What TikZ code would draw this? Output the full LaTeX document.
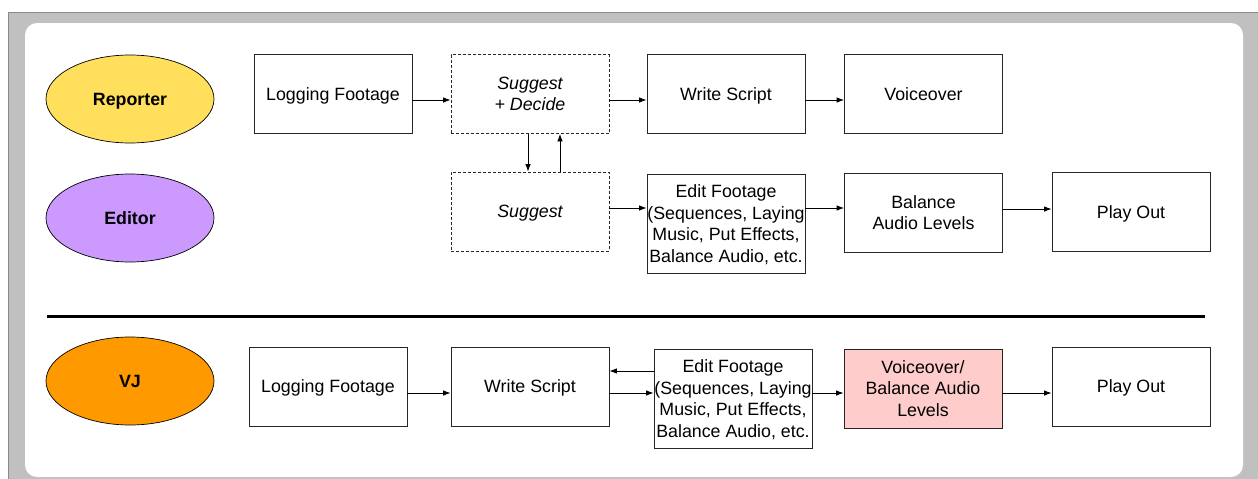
\documentclass[tikz,border=0pt]{standalone}
\usepackage{fontspec}
\setmainfont{Liberation Sans}
\usetikzlibrary{shapes.geometric,arrows.meta}
\definecolor{frame}{HTML}{C0C0C0}
\definecolor{frameedge}{HTML}{8A8A8A}
\definecolor{repcol}{HTML}{FFDF5C}
\definecolor{edcol}{HTML}{CC99FF}
\definecolor{vjcol}{HTML}{FF9900}
\definecolor{pinkcol}{HTML}{FFCCCC}
\tikzset{
  role/.style={ellipse,draw=black,line width=0.7pt,minimum width=168pt,minimum height=88pt,inner sep=0pt,text depth=0pt,font=\fontsize{17.8}{21.5}\selectfont\bfseries},
  taskbox/.style={draw=black!85,line width=0.8pt,minimum width=158pt,minimum height=79pt,inner sep=0pt,text depth=0pt,align=center,font=\fontsize{17.8}{21.5}\selectfont},
  tallbox/.style={taskbox,minimum height=99pt},
  idea/.style={taskbox,dash pattern=on 3pt off 2pt,font=\fontsize{17.8}{21.5}\selectfont\itshape},
  flow/.style={line width=0.8pt,-{Latex[length=7.5pt,width=5.5pt]}}
}
\begin{document}
\begin{tikzpicture}[x=1pt,y=-1pt]
\useasboundingbox (0,0) rectangle (1258,479);
% page frame and white panel
\fill[frame] (8,12) rectangle (1258,479);
\draw[frameedge,line width=1pt] (8,479) -- (8,12) -- (1258,12);
\fill[white,rounded corners=12pt] (25,23) rectangle (1243,477);

% roles
\node[role,fill=repcol] (rep) at (130,99) {Reporter};
\node[role,fill=edcol] (ed) at (130,218) {Editor};
\node[role,fill=vjcol] (vj) at (130,381) {VJ};

% reporter row
\node[taskbox] (log1) at (333,94) {Logging Footage};
\node[idea] (sd) at (530,94) {Suggest\\+ Decide};
\node[taskbox] (ws1) at (726,94) {Write Script};
\node[taskbox] (vo) at (923.5,94) {Voiceover};

% editor row
\node[idea] (sg) at (530,211.5) {Suggest};
\node[tallbox] (ef1) at (726,223.5) {Edit Footage\\(Sequences, Laying\\Music, Put Effects,\\Balance Audio, etc.};
\node[taskbox] (bal) at (923.5,212.5) {Balance\\Audio Levels};
\node[taskbox] (po1) at (1131,212) {Play Out};

% separator
\draw[line width=3pt] (47,316) -- (1205,316);

% VJ row
\node[taskbox] (log2) at (328,386.5) {Logging Footage};
\node[taskbox] (ws2) at (530,386.5) {Write Script};
\node[tallbox] (ef2) at (733,398.5) {Edit Footage\\(Sequences, Laying\\Music, Put Effects,\\Balance Audio, etc.};
\node[taskbox,fill=pinkcol] (vb) at (923,388.5) {Voiceover/\\Balance Audio\\Levels};
\node[taskbox] (po2) at (1131,386.5) {Play Out};

% connectors, reporter row
\draw[flow] ([yshift=-6pt]log1.east) -- ([yshift=-6pt]sd.west);
\draw[flow] ([yshift=-6pt]sd.east) -- ([yshift=-6pt]ws1.west);
\draw[flow] ([yshift=-6pt]ws1.east) -- ([yshift=-6pt]vo.west);
\draw[flow] ([xshift=-2pt]sd.south) -- ([xshift=-2pt]sg.north);
\draw[flow] ([xshift=30pt]sg.north) -- ([xshift=30pt]sd.south);

% connectors, editor row
\draw[flow] ([yshift=3.5pt]sg.east) -- ([yshift=15.5pt]ef1.west);
\draw[flow] ([yshift=15.5pt]ef1.east) -- ([yshift=4.5pt]bal.west);
\draw[flow] ([yshift=3.5pt]bal.east) -- ([yshift=3pt]po1.west);

% connectors, VJ row
\draw[flow] ([yshift=-6.5pt]log2.east) -- ([yshift=-6.5pt]ws2.west);
\draw[flow] ([yshift=27.5pt]ef2.west) -- ([yshift=15.5pt]ws2.east);
\draw[flow] ([yshift=-6.5pt]ws2.east) -- ([yshift=5.5pt]ef2.west);
\draw[flow] ([yshift=5.5pt]ef2.east) -- ([yshift=-4.5pt]vb.west);
\draw[flow] ([yshift=-4.5pt]vb.east) -- ([yshift=-6.5pt]po2.west);
\end{tikzpicture}
\end{document}
